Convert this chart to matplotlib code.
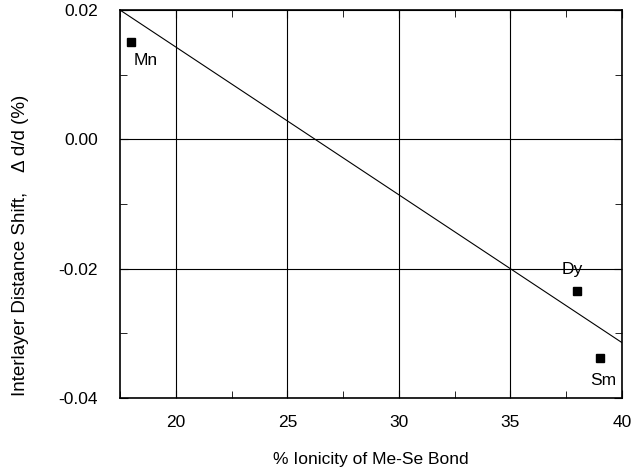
import numpy as np
import matplotlib
matplotlib.use("Agg")
import matplotlib.pyplot as plt
from matplotlib.ticker import MultipleLocator

plt.rcParams['font.family'] = ['Liberation Sans', 'DejaVu Sans']
plt.rcParams['axes.unicode_minus'] = False

# data
metals = ['Mn', 'Dy', 'Sm']
ionicity = [18.0, 38.0, 39.0]
shift = [0.0150, -0.0234, -0.0338]

# straight line shown on the chart
line_slope = -0.002286
line_intercept = 0.060

fig = plt.figure(figsize=(6.32, 4.75), dpi=100)
ax = fig.add_axes([120 / 632, 77 / 475, 502 / 632, 388 / 475])

xs = np.array([17.5, 40.0])
ax.plot(xs, line_intercept + line_slope * xs, color='black', lw=0.8)
ax.plot(ionicity, shift, 's', color='black', ms=5.5)

# label offsets in points (dx, dy)
offsets = {'Mn': (2, -13), 'Dy': (-11, 15), 'Sm': (-7, -16)}
for name, x, y in zip(metals, ionicity, shift):
    dx, dy = offsets[name]
    ax.annotate(name, (x, y), xytext=(dx, dy), textcoords='offset points',
                ha='left', va='center', fontsize=12.5)

ax.set_xlim(17.5, 40)
ax.set_ylim(-0.04, 0.02)
ax.xaxis.set_major_locator(MultipleLocator(5))
ax.xaxis.set_minor_locator(MultipleLocator(2.5))
ax.yaxis.set_major_locator(MultipleLocator(0.02))
ax.yaxis.set_minor_locator(MultipleLocator(0.01))
ax.yaxis.set_major_formatter(plt.FormatStrFormatter('%.2f'))
ax.grid(True, which='major', color='black', lw=0.8)
ax.tick_params(which='both', direction='in', labelsize=12.5, top=True, right=True)
ax.tick_params(axis='x', pad=12)
ax.tick_params(axis='y', pad=16)
ax.tick_params(which='major', length=6)
ax.tick_params(which='minor', length=5)
for sp in ax.spines.values():
    sp.set_linewidth(1.2)

ax.set_xlabel('% Ionicity of Me-Se Bond', fontsize=12.5, labelpad=16)
ax.set_ylabel('Interlayer Distance Shift,    \u0394 d/d (%)', fontsize=13.5)
ax.yaxis.set_label_coords(-0.199, 0.394)
ax.yaxis.label.set_verticalalignment('center')

fig.savefig('out.png', dpi=100)
